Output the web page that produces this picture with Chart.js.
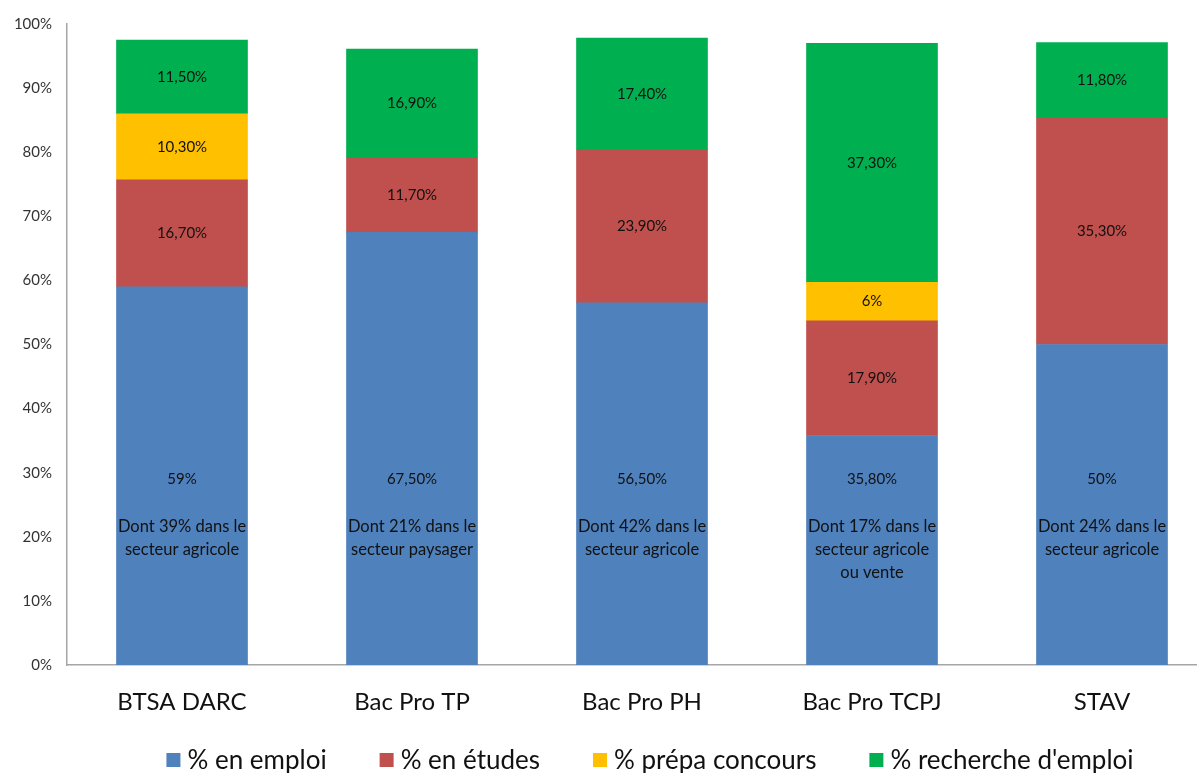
<!DOCTYPE html>
<html>
<head>
<meta charset="utf-8">
<script src="https://cdn.jsdelivr.net/npm/chart.js@4.4.0/dist/chart.umd.min.js"></script>
<style>
    html, body { margin: 0; padding: 0; background: #fff; overflow: hidden; }
    #wrap { width: 1197px; height: 773px; overflow: hidden; }
</style>
</head>
<body>
<div id="wrap"><canvas id="chart" width="1217" height="773"></canvas></div>
<script>
// Data
const categories = ['BTSA DARC', 'Bac Pro TP', 'Bac Pro PH', 'Bac Pro TCPJ', 'STAV'];
const enEmploi = [59, 67.5, 56.5, 35.8, 50];
const enEtudes = [16.7, 11.7, 23.9, 17.9, 35.3];
const prepaConcours = [10.3, null, null, 6, null];
const rechercheEmploi = [11.5, 16.9, 17.4, 37.3, 11.8];
const notes = [
    ['Dont 39% dans le', 'secteur agricole'],
    ['Dont 21% dans le', 'secteur paysager'],
    ['Dont 42% dans le', 'secteur agricole'],
    ['Dont 17% dans le', 'secteur agricole', 'ou vente'],
    ['Dont 24% dans le', 'secteur agricole']
];
const yTicks = [0, 10, 20, 30, 40, 50, 60, 70, 80, 90, 100];

const FONT = 'Lato, "Noto Sans", sans-serif';

function formatPct(v) {
    if (Number.isInteger(v)) return v + '%';
    return v.toFixed(2).replace('.', ',') + '%';
}

// Labels in the middle of each segment + the "Dont ..." notes
const segmentLabels = {
    id: 'segmentLabels',
    afterDatasetsDraw(chart) {
        const ctx = chart.ctx;
        const yScale = chart.scales.y;
        ctx.save();
        ctx.fillStyle = '#111';
        ctx.textAlign = 'center';
        ctx.textBaseline = 'middle';
        chart.data.datasets.forEach((ds, i) => {
            const meta = chart.getDatasetMeta(i);
            meta.data.forEach((bar, j) => {
                const v = ds.data[j];
                if (v == null) return;
                ctx.font = '15px ' + FONT;
                if (i === 0) {
                    // employment label sits lower, with the note under it
                    const y = yScale.getPixelForValue(29);
                    ctx.fillText(formatPct(v), bar.x, y);
                    ctx.font = '16.5px ' + FONT;
                    notes[j].forEach((line, k) => {
                        ctx.fillText(line, bar.x, y + 48 + k * 23);
                    });
                } else {
                    ctx.fillText(formatPct(v), bar.x, (bar.y + bar.base) / 2);
                }
            });
        });
        ctx.restore();
    }
};

// Legend drawn at the bottom
const bottomLegend = {
    id: 'bottomLegend',
    afterDraw(chart) {
        const ctx = chart.ctx;
        const box = 14, gapText = 7, gapItem = 53;
        ctx.save();
        ctx.font = '26px ' + FONT;
        ctx.textBaseline = 'middle';
        ctx.textAlign = 'left';
        const items = chart.data.datasets.map(ds => ({
            text: ds.label,
            color: ds.backgroundColor,
            w: ctx.measureText(ds.label).width
        }));
        let total = 0;
        items.forEach((it, i) => {
            total += box + gapText + it.w + (i < items.length - 1 ? gapItem : 0);
        });
        let x = 650 - total / 2;
        const y = 760;
        items.forEach(it => {
            ctx.fillStyle = it.color;
            ctx.fillRect(x, y - box / 2, box, box);
            ctx.fillStyle = '#111';
            ctx.fillText(it.text, x + box + gapText, y + 1);
            x += box + gapText + it.w + gapItem;
        });
        ctx.restore();
    }
};

const ctx = document.getElementById('chart').getContext('2d');
new Chart(ctx, {
    type: 'bar',
    data: {
        labels: categories,
        datasets: [
            { label: '% en emploi', data: enEmploi, backgroundColor: '#4F81BD' },
            { label: '% en études', data: enEtudes, backgroundColor: '#C0504D' },
            { label: '% prépa concours', data: prepaConcours, backgroundColor: '#FFC000' },
            { label: "% recherche d'emploi", data: rechercheEmploi, backgroundColor: '#00B050' }
        ]
    },
    options: {
        responsive: false,
        animation: false,
        barThickness: 131,
        borderWidth: 0,
        layout: { padding: { top: 20, right: 0, left: 0, bottom: 0 } },
        plugins: {
            legend: { display: false },
            tooltip: { enabled: false }
        },
        scales: {
            x: {
                stacked: true,
                grid: { display: false, drawTicks: false },
                border: { display: true, color: '#A6A6A6', width: 1.5 },
                ticks: {
                    padding: 23,
                    color: '#111',
                    font: { family: FONT, size: 24 }
                },
                afterFit(scale) { scale.height = 108; }
            },
            y: {
                stacked: true,
                min: 0,
                max: 100,
                grid: { display: false, drawTicks: false },
                border: { display: true, color: '#A6A6A6', width: 1.5 },
                afterBuildTicks(scale) {
                    scale.ticks = yTicks.map(v => ({ value: v }));
                },
                ticks: {
                    padding: 15,
                    color: '#333',
                    font: { family: FONT, size: 15 },
                    callback: v => v + '%'
                },
                afterFit(scale) { scale.width = 67; }
            }
        }
    },
    plugins: [segmentLabels, bottomLegend]
});
</script>
</body>
</html>
